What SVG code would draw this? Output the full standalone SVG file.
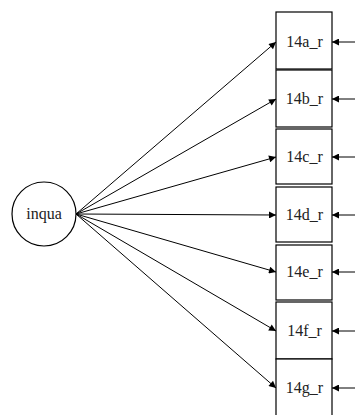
<svg xmlns="http://www.w3.org/2000/svg" width="355" height="415" viewBox="0 0 355 415">
<style>
.box{fill:#fff;stroke:#000;stroke-width:1.2}
.lbl{font-family:"Liberation Serif",serif;font-size:16px;fill:#222;text-anchor:middle}
.c{stroke:#000;stroke-width:1;fill:none;marker-end:url(#ah)}
</style>
<defs>
<marker id="ah" viewBox="0 0 10 10" refX="10" refY="5" markerWidth="9" markerHeight="7" markerUnits="userSpaceOnUse" orient="auto">
<path d="M0,0 L10,5 L0,10 Z" fill="#000"/>
</marker>
</defs>
<rect width="355" height="415" fill="#fff"/>
<g id="inqua">
<circle cx="44" cy="214" r="32" fill="#fff" stroke="#000" stroke-width="1.2"/>
<text class="lbl" x="44" y="218.5">inqua</text>
</g>
<g id="n14a_r"><rect class="box" x="276" y="12" width="56" height="57"/><text class="lbl" x="304.5" y="47.3">14a_r</text></g>
<g id="n14b_r"><rect class="box" x="276" y="70" width="56" height="57"/><text class="lbl" x="304.5" y="104.3">14b_r</text></g>
<g id="n14c_r"><rect class="box" x="276" y="129" width="56" height="55"/><text class="lbl" x="304.5" y="162.3">14c_r</text></g>
<g id="n14d_r"><rect class="box" x="276" y="187" width="56" height="55"/><text class="lbl" x="304.5" y="220.3">14d_r</text></g>
<g id="n14e_r"><rect class="box" x="276" y="245" width="56" height="55"/><text class="lbl" x="304.5" y="277.3">14e_r</text></g>
<g id="n14f_r"><rect class="box" x="276" y="302" width="56" height="57"/><text class="lbl" x="304.5" y="336.3">14f_r</text></g>
<g id="n14g_r"><rect class="box" x="276" y="359" width="56" height="60"/><text class="lbl" x="304.5" y="393.3">14g_r</text></g>
<g id="connectors">
<line class="c" x1="76" y1="214" x2="276" y2="42"/>
<line class="c" x1="76" y1="214" x2="276" y2="99"/>
<line class="c" x1="76" y1="214" x2="276" y2="157"/>
<line class="c" x1="76" y1="214" x2="276" y2="215"/>
<line class="c" x1="76" y1="214" x2="276" y2="272"/>
<line class="c" x1="76" y1="214" x2="276" y2="331"/>
<line class="c" x1="76" y1="214" x2="276" y2="388"/>
<line class="c" x1="355" y1="42" x2="332" y2="42"/>
<line class="c" x1="355" y1="99" x2="332" y2="99"/>
<line class="c" x1="355" y1="157" x2="332" y2="157"/>
<line class="c" x1="355" y1="215" x2="332" y2="215"/>
<line class="c" x1="355" y1="272" x2="332" y2="272"/>
<line class="c" x1="355" y1="331" x2="332" y2="331"/>
<line class="c" x1="355" y1="388" x2="332" y2="388"/>
</g>
</svg>
